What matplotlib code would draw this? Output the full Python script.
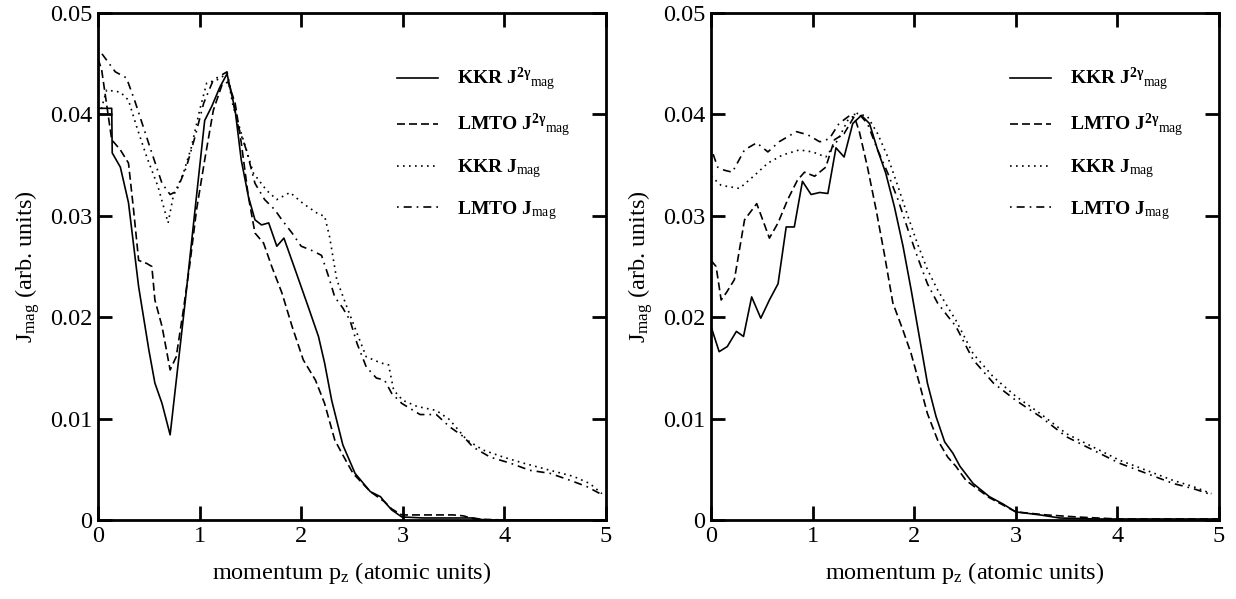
import matplotlib

matplotlib.use("Agg")
import matplotlib.pyplot as plt
from matplotlib.ticker import FixedLocator, FuncFormatter

plt.rcParams["font.family"] = ["Liberation Serif", "DejaVu Serif"]
plt.rcParams["mathtext.fontset"] = "custom"
plt.rcParams["mathtext.rm"] = "Liberation Serif"
plt.rcParams["mathtext.bf"] = "Liberation Serif:bold"
plt.rcParams["mathtext.it"] = "Liberation Serif:italic"

# ---- left panel ----
L_KKR2G_X = [0.0, 0.135, 0.14, 0.22, 0.30, 0.40, 0.50, 0.56, 0.63, 0.71, 0.86, 0.955, 1.05, 1.12,
             1.20, 1.27, 1.35, 1.41, 1.48, 1.545, 1.61, 1.68, 1.76, 1.83, 1.94, 2.07, 2.17, 2.23,
             2.30, 2.41, 2.53, 2.68, 2.78, 2.82, 2.89, 2.99, 3.2, 3.5, 3.7, 3.8, 4.2, 4.6, 5.0]
L_KKR2G_Y = [0.0406, 0.0406, 0.0362, 0.0348, 0.0313, 0.0230, 0.0168, 0.0135, 0.0115, 0.0084,
             0.0217, 0.0306, 0.0394, 0.0408, 0.0427, 0.0440, 0.0404, 0.0355, 0.0319, 0.0296,
             0.0291, 0.0293, 0.0270, 0.0278, 0.0247, 0.0210, 0.0181, 0.0155, 0.0118, 0.0074,
             0.0046, 0.0028, 0.0023, 0.0018, 0.0010, 0.0003, 0.0002, 0.0002, 0.0002, 0.0,
             0.0, 0.0, 0.0]

L_LMTO2G_X = [0.0, 0.036, 0.135, 0.22, 0.30, 0.35, 0.40, 0.48, 0.53, 0.56, 0.63, 0.71, 0.77, 0.84,
              0.905, 0.97, 1.05, 1.135, 1.22, 1.28, 1.35, 1.41, 1.48, 1.545, 1.63, 1.71, 1.81,
              1.91, 2.02, 2.14, 2.23, 2.33, 2.41, 2.51, 2.68, 2.82, 2.89, 2.99, 3.2, 3.5, 3.6,
              3.7, 4.0, 4.5, 5.0]
L_LMTO2G_Y = [0.0455, 0.0444, 0.0375, 0.0365, 0.0352, 0.0306, 0.0256, 0.0253, 0.0250, 0.0217,
              0.0191, 0.0148, 0.0161, 0.0207, 0.0253, 0.0306, 0.0355, 0.0404, 0.0429, 0.0432,
              0.0411, 0.0372, 0.0319, 0.0283, 0.0273, 0.0250, 0.0224, 0.0191, 0.0158, 0.0138,
              0.0115, 0.0079, 0.0064, 0.0046, 0.0028, 0.0018, 0.0011, 0.0005, 0.0005, 0.0005,
              0.0004, 0.0001, 0.0, 0.0, 0.0]

L_KKR_X = [0.0, 0.085, 0.22, 0.30, 0.38, 0.48, 0.59, 0.69, 0.74, 0.84, 0.92, 1.0, 1.07, 1.17, 1.27,
           1.33, 1.43, 1.53, 1.66, 1.76, 1.89, 2.02, 2.18, 2.23, 2.28, 2.35, 2.45, 2.55, 2.64,
           2.78, 2.86, 2.91, 3.0, 3.14, 3.33, 3.46, 3.63, 3.79, 3.99, 4.19, 4.45, 4.68, 4.84, 4.96]
L_KKR_Y = [0.0394, 0.0424, 0.0422, 0.0414, 0.0388, 0.0358, 0.0329, 0.0293, 0.0319, 0.0342,
           0.0368, 0.0404, 0.0431, 0.0434, 0.0440, 0.0408, 0.0375, 0.0342, 0.0325, 0.0316,
           0.0323, 0.0312, 0.0301, 0.0300, 0.0279, 0.0237, 0.0210, 0.0184, 0.0161, 0.0155,
           0.0153, 0.0128, 0.0118, 0.0112, 0.0108, 0.0099, 0.0079, 0.0069, 0.0062, 0.0056,
           0.0049, 0.0043, 0.0036, 0.0026]

L_LMTO_X = [0.0, 0.17, 0.28, 0.36, 0.51, 0.63, 0.71, 0.77, 0.87, 0.955, 1.04, 1.135, 1.27, 1.32,
            1.38, 1.46, 1.545, 1.64, 1.74, 1.81, 1.91, 2.0, 2.10, 2.20, 2.27, 2.33, 2.41, 2.48,
            2.55, 2.64, 2.74, 2.82, 2.89, 2.99, 3.17, 3.33, 3.46, 3.60, 3.69, 3.86, 4.06, 4.25,
            4.45, 4.65, 4.81, 4.96]
L_LMTO_Y = [0.0465, 0.0442, 0.0436, 0.0414, 0.0368, 0.0332, 0.0321, 0.0324, 0.0348, 0.0378,
            0.0411, 0.0434, 0.0442, 0.0417, 0.0388, 0.0365, 0.0332, 0.0316, 0.0306, 0.0296,
            0.0283, 0.0270, 0.0266, 0.0261, 0.0240, 0.0220, 0.0209, 0.0197, 0.0174, 0.0151,
            0.0140, 0.0138, 0.0125, 0.0115, 0.0104, 0.0104, 0.0092, 0.0082, 0.0072, 0.0062,
            0.0056, 0.0049, 0.0046, 0.0039, 0.0033, 0.0025]

# ---- right panel ----
R_KKR2G_X = [0.0, 0.08, 0.16, 0.25, 0.32, 0.40, 0.49, 0.575, 0.66, 0.74, 0.82, 0.90, 0.985, 1.07,
             1.15, 1.23, 1.31, 1.395, 1.48, 1.56, 1.64, 1.72, 1.805, 1.89, 1.97, 2.05, 2.13,
             2.215, 2.30, 2.38, 2.45, 2.58, 2.74, 2.87, 3.0, 3.24, 3.43, 3.8, 4.3, 5.0]
R_KKR2G_Y = [0.0191, 0.0166, 0.0171, 0.0186, 0.0181, 0.0220, 0.0199, 0.0217, 0.0233, 0.0289,
             0.0289, 0.0334, 0.0321, 0.0323, 0.0322, 0.0367, 0.0358, 0.0391, 0.0399, 0.0391,
             0.0365, 0.0342, 0.0309, 0.0270, 0.0227, 0.0181, 0.0135, 0.0102, 0.0077, 0.0066,
             0.0053, 0.0036, 0.0023, 0.0016, 0.0008, 0.0005, 0.0002, 0.0001, 0.0001, 0.0001]

R_LMTO2G_X = [0.0, 0.05, 0.10, 0.15, 0.23, 0.33, 0.45, 0.575, 0.66, 0.755, 0.85, 0.92, 1.02, 1.13,
              1.215, 1.31, 1.41, 1.46, 1.54, 1.625, 1.705, 1.79, 1.89, 1.97, 2.05, 2.13, 2.23,
              2.33, 2.41, 2.51, 2.74, 2.87, 3.0, 3.3, 3.6, 4.0, 4.5, 5.0]
R_LMTO2G_Y = [0.0256, 0.0250, 0.0217, 0.0224, 0.0237, 0.0296, 0.0312, 0.0278, 0.0293, 0.0316,
              0.0335, 0.0343, 0.0339, 0.0348, 0.0375, 0.0381, 0.0398, 0.0383, 0.0348, 0.0306,
              0.0263, 0.0214, 0.0187, 0.0164, 0.0135, 0.0105, 0.0079, 0.0062, 0.0053, 0.0039,
              0.0022, 0.0015, 0.0008, 0.0005, 0.0003, 0.0001, 0.0001, 0.0001]

R_KKR_X = [0.0, 0.10, 0.28, 0.43, 0.56, 0.705, 0.87, 1.0, 1.13, 1.25, 1.345, 1.44, 1.54, 1.64,
           1.74, 1.84, 1.94, 2.03, 2.13, 2.23, 2.33, 2.41, 2.58, 2.78, 3.0, 3.24, 3.50, 3.76,
           4.02, 4.285, 4.55, 4.745, 4.925]
R_KKR_Y = [0.0339, 0.0330, 0.0327, 0.0340, 0.0352, 0.0360, 0.0365, 0.0363, 0.0358, 0.0375,
           0.0394, 0.0401, 0.0398, 0.0381, 0.0358, 0.0329, 0.0299, 0.0273, 0.0247, 0.0227,
           0.0210, 0.0197, 0.0164, 0.0141, 0.0122, 0.0105, 0.0085, 0.0072, 0.0059, 0.0049,
           0.0039, 0.0033, 0.0026]

R_LMTO_X = [0.0, 0.065, 0.13, 0.21, 0.33, 0.45, 0.56, 0.67, 0.84, 0.95, 1.07, 1.165, 1.26, 1.38,
            1.46, 1.54, 1.64, 1.74, 1.84, 1.94, 2.03, 2.13, 2.23, 2.33, 2.41, 2.58, 2.78, 3.0,
            3.24, 3.50, 3.76, 4.02, 4.285, 4.55, 4.745, 4.925]
R_LMTO_Y = [0.0367, 0.0348, 0.0345, 0.0343, 0.0365, 0.0372, 0.0363, 0.0373, 0.0383, 0.0380,
            0.0373, 0.0376, 0.0391, 0.0400, 0.0400, 0.0391, 0.0365, 0.0342, 0.0316, 0.0286,
            0.0260, 0.0233, 0.0214, 0.0201, 0.0191, 0.0158, 0.0135, 0.0118, 0.0102, 0.0082,
            0.0069, 0.0056, 0.0046, 0.0036, 0.0031, 0.0025]

LABELS = [
    r"KKR J$^{\mathbf{2\gamma}}{}_{\mathrm{mag}}$",
    r"LMTO J$^{\mathbf{2\gamma}}{}_{\mathrm{mag}}$",
    r"KKR J$_{\mathrm{mag}}$",
    r"LMTO J$_{\mathrm{mag}}$",
]
X_TICKS = [0, 1, 2, 3, 4, 5]
Y_TICKS = [0, 0.01, 0.02, 0.03, 0.04, 0.05]

STYLES = ["-", (0, (4.8, 2.4)), (0, (1, 2.6)), (0, (1, 3, 4.8, 3))]
LW = 1.2

panels = [
    [(L_KKR2G_X, L_KKR2G_Y), (L_LMTO2G_X, L_LMTO2G_Y), (L_KKR_X, L_KKR_Y), (L_LMTO_X, L_LMTO_Y)],
    [(R_KKR2G_X, R_KKR2G_Y), (R_LMTO2G_X, R_LMTO2G_Y), (R_KKR_X, R_KKR_Y), (R_LMTO_X, R_LMTO_Y)],
]

fig = plt.figure(figsize=(12.36, 5.99), dpi=100)
lefts = [98 / 1236, 711 / 1236]

for left, series in zip(lefts, panels):
    ax = fig.add_axes([left, 79 / 599, 508 / 1236, 507 / 599])
    for (xs, ys), ls, lab in zip(series, STYLES, LABELS):
        ax.plot(xs, ys, color="black", linestyle=ls, linewidth=LW, label=lab)

    ax.set_xlim(0, 5)
    ax.set_ylim(0, 0.05)
    ax.xaxis.set_major_locator(FixedLocator(X_TICKS))
    ax.yaxis.set_major_locator(FixedLocator(Y_TICKS))
    ax.xaxis.set_major_formatter(FuncFormatter(lambda v, p: f"{v:g}"))
    ax.yaxis.set_major_formatter(FuncFormatter(lambda v, p: "0" if v == 0 else f"{v:.2f}"))
    ax.tick_params(direction="in", length=10, width=2, labelsize=17.5,
                   top=True, right=True, colors="black")
    ax.tick_params(axis="x", pad=4)
    ax.tick_params(axis="y", pad=4)
    for sp in ax.spines.values():
        sp.set_linewidth(2)

    ax.set_xlabel(r"momentum p$_{\mathrm{z}}$ (atomic units)", fontsize=17.5, labelpad=10)
    ax.set_ylabel(r"J$_{\mathrm{mag}}$ (arb. units)", fontsize=17.5, labelpad=6)

    ax.legend(loc="upper left", bbox_to_anchor=(0.589, 0.895), frameon=False,
              prop={"weight": "bold", "size": 14}, handlelength=2.1, handletextpad=1.0,
              labelspacing=0.95, borderpad=0, borderaxespad=0)

fig.savefig("out.png", dpi=100)
